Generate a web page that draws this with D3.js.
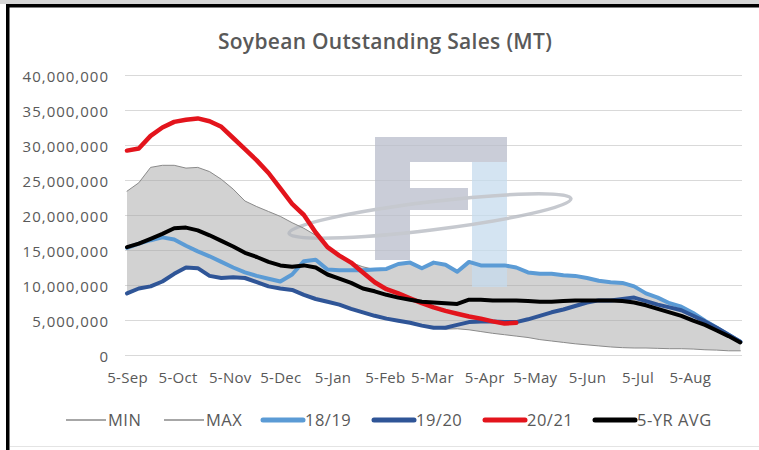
<!DOCTYPE html>
<html>
<head>
<meta charset="utf-8">
<title>Soybean Outstanding Sales (MT)</title>
<script src="https://cdn.jsdelivr.net/npm/d3@7"></script>
<style>
  html, body { margin: 0; padding: 0; background: #fff; }
  #chart { width: 759px; height: 450px; }
  text { font-family: "Open Sans", sans-serif; }
</style>
</head>
<body>
<div id="chart"></div>
<script>
// weekly outstanding sales, million MT, weeks starting 5-Sep
var startDate = new Date(2020, 8, 5);
var endDate = new Date(2021, 8, 5);
var weeks = d3.range(53).map(function(i) { return d3.timeDay.offset(startDate, 7 * i); });
var monthTicks = d3.range(12).map(function(m) { return new Date(2020, 8 + m, 5); });
var yTicks = [0, 5, 10, 15, 20, 25, 30, 35, 40];

var minVals = [8.6, 9.5, 9.8, 10.5, 11.6, 12.5, 12.4, 11.3, 11.0, 11.1, 11.0, 10.4, 9.8, 9.5,
  9.3, 8.6, 8.0, 7.6, 7.2, 6.6, 6.1, 5.6, 5.2, 4.9, 4.6, 4.2, 3.9, 3.7, 3.75, 3.6, 3.35, 3.1,
  2.9, 2.7, 2.5, 2.2, 2.0, 1.8, 1.6, 1.45, 1.3, 1.15, 1.05, 1.0, 1.0, 0.95, 0.9, 0.9, 0.85,
  0.75, 0.7, 0.6, 0.6];
var maxVals = [23.4, 24.6, 26.8, 27.1, 27.1, 26.7, 26.8, 26.2, 25.1, 23.7, 22.0, 21.2, 20.5,
  19.8, 18.9, 18.1, 17.1, 15.6, 14.2, 13.2, 12.6, 12.2, 12.3, 13.0, 13.2, 12.4, 13.2, 12.9,
  11.9, 13.3, 12.8, 12.8, 12.8, 12.5, 11.8, 11.6, 11.6, 11.4, 11.3, 11.0, 10.6, 10.4, 10.3,
  9.8, 8.8, 8.2, 7.4, 6.9, 6.0, 4.9, 3.9, 2.9, 1.9];
var s1819 = [15.3, 15.9, 16.4, 16.8, 16.5, 15.6, 14.8, 14.1, 13.3, 12.5, 11.8, 11.3, 10.9,
  10.5, 11.5, 13.4, 13.6, 12.2, 12.1, 12.1, 12.1, 12.2, 12.3, 13.0, 13.2, 12.4, 13.2, 12.9,
  11.9, 13.3, 12.8, 12.8, 12.8, 12.5, 11.8, 11.6, 11.6, 11.4, 11.3, 11.0, 10.6, 10.4, 10.3,
  9.8, 8.8, 8.2, 7.4, 6.9, 6.0, 4.9, 3.9, 2.9, 1.9];
var s1920 = [8.8, 9.5, 9.8, 10.5, 11.6, 12.5, 12.4, 11.3, 11.0, 11.1, 11.0, 10.4, 9.8, 9.5,
  9.3, 8.6, 8.0, 7.6, 7.2, 6.6, 6.1, 5.6, 5.2, 4.9, 4.6, 4.2, 3.9, 3.9, 4.3, 4.7, 4.8, 4.8,
  4.7, 4.7, 5.1, 5.6, 6.1, 6.5, 7.0, 7.5, 7.8, 7.8, 8.0, 8.2, 7.7, 7.2, 6.8, 6.4, 5.6, 4.8,
  3.9, 2.9, 1.9];
var s2021 = [29.2, 29.5, 31.3, 32.5, 33.3, 33.6, 33.8, 33.4, 32.6, 31.0, 29.4, 27.8, 26.0,
  23.8, 21.6, 20.0, 17.5, 15.4, 14.2, 13.2, 11.8, 10.4, 9.4, 8.8, 8.1, 7.4, 6.8, 6.3, 5.9,
  5.5, 5.2, 4.8, 4.5, 4.6];
var avg5 = [15.4, 15.9, 16.6, 17.3, 18.1, 18.2, 17.8, 17.1, 16.3, 15.5, 14.6, 14.0, 13.3,
  12.8, 12.6, 12.8, 12.5, 11.5, 10.9, 10.3, 9.5, 9.1, 8.6, 8.2, 7.9, 7.6, 7.5, 7.4, 7.3, 7.9,
  7.9, 7.8, 7.8, 7.8, 7.7, 7.6, 7.6, 7.7, 7.8, 7.8, 7.8, 7.8, 7.7, 7.5, 7.1, 6.6, 6.1, 5.6,
  4.9, 4.3, 3.5, 2.7, 1.8];

var legendNames = ["MIN", "MAX", "18/19", "19/20", "20/21", "5-YR AVG"];

var width = 759, height = 450;
var svg = d3.select("#chart").append("svg")
    .attr("width", width)
    .attr("height", height);

svg.append("rect").attr("width", width).attr("height", height).attr("fill", "#fff");

var x = d3.scaleTime().domain([startDate, endDate]).range([127, 742]);
var y = d3.scaleLinear().domain([0, 40]).range([355, 75]);

// frame
svg.append("rect").attr("x", 0).attr("y", 0).attr("width", width).attr("height", 4).attr("fill", "#d6d6d6");
svg.append("rect").attr("x", 6).attr("y", 4).attr("width", width - 6).attr("height", 3.5).attr("fill", "#000");
svg.append("rect").attr("x", 6).attr("y", 4).attr("width", 3.5).attr("height", height - 4).attr("fill", "#000");
svg.append("line").attr("x1", 10).attr("x2", width).attr("y1", 446.5).attr("y2", 446.5)
    .attr("stroke", "#e4e4e4");

// title
svg.append("text")
    .attr("x", 385).attr("y", 49)
    .attr("text-anchor", "middle")
    .attr("fill", "#595959")
    .style("font-size", "21px")
    .style("font-weight", 600)
    .style("letter-spacing", "0.3px")
    .text("Soybean Outstanding Sales (MT)");

// gridlines
svg.append("g").selectAll("line")
    .data(yTicks)
    .enter().append("line")
    .attr("x1", 125).attr("x2", 742)
    .attr("y1", function(d) { return y(d) + 0.5; })
    .attr("y2", function(d) { return y(d) + 0.5; })
    .attr("stroke", "#d9d9d9");

// min-max band
var band = d3.area()
    .x(function(d, i) { return x(weeks[i]); })
    .y0(function(d, i) { return y(minVals[i]); })
    .y1(function(d, i) { return y(maxVals[i]); });
svg.append("path")
    .datum(weeks)
    .attr("d", band)
    .attr("fill", "#a6a6a6")
    .attr("fill-opacity", 0.5);

// watermark logo
var logo = svg.append("g").attr("opacity", 0.75);
logo.append("rect").attr("x", 375).attr("y", 137).attr("width", 132).attr("height", 25).attr("fill", "#b9bdcb");
logo.append("rect").attr("x", 375).attr("y", 162).attr("width", 35).attr("height", 98).attr("fill", "#b9bdcb");
logo.append("rect").attr("x", 410).attr("y", 188).attr("width", 58).attr("height", 22).attr("fill", "#b9bdcb");
logo.append("rect").attr("x", 472).attr("y", 162).attr("width", 35).attr("height", 125).attr("fill", "#c6dcee");
logo.append("ellipse")
    .attr("cx", 430).attr("cy", 216).attr("rx", 142).attr("ry", 14)
    .attr("transform", "rotate(-7 430 216)")
    .attr("fill", "none")
    .attr("stroke", "#b3b7bf")
    .attr("stroke-width", 3.5);

var line = function(vals) {
  return d3.line()
    .x(function(d, i) { return x(weeks[i]); })
    .y(function(d) { return y(d); })(vals);
};

var series = [
  { name: "MIN", vals: minVals, color: "#8a8a8a", w: 1 },
  { name: "MAX", vals: maxVals, color: "#8a8a8a", w: 1 },
  { name: "18/19", vals: s1819, color: "#5b9bd5", w: 4 },
  { name: "19/20", vals: s1920, color: "#2f5597", w: 4 },
  { name: "20/21", vals: s2021, color: "#e3141c", w: 4.5 },
  { name: "5-YR AVG", vals: avg5, color: "#000000", w: 4 }
];

svg.append("g").selectAll("path")
    .data(series)
    .enter().append("path")
    .attr("d", function(d) { return line(d.vals); })
    .attr("fill", "none")
    .attr("stroke", function(d) { return d.color; })
    .attr("stroke-width", function(d) { return d.w; })
    .attr("stroke-linejoin", "round")
    .attr("stroke-linecap", "round");

// axes
var xAxis = svg.append("g")
    .attr("transform", "translate(0,355)")
    .call(d3.axisBottom(x).tickValues(monthTicks).tickFormat(d3.timeFormat("%-d-%b")).tickSize(0).tickPadding(17));
xAxis.select(".domain").remove();
xAxis.selectAll("text")
    .attr("fill", "#595959")
    .style("font-size", "15px")
    .style("letter-spacing", "0.3px")
    .style("font-family", "'Open Sans', sans-serif");

var yAxis = svg.append("g")
    .attr("transform", "translate(125,0)")
    .call(d3.axisLeft(y).tickValues(yTicks).tickFormat(function(d) { return d3.format(",")(d * 1e6); }).tickSize(0).tickPadding(16));
yAxis.select(".domain").remove();
yAxis.selectAll("text")
    .attr("fill", "#595959")
    .attr("dy", "0.45em")
    .style("font-size", "15px")
    .style("letter-spacing", "1px")
    .style("font-family", "'Open Sans', sans-serif");

// legend
var legendX = [66, 164, 263, 374, 485, 595];
var legend = svg.append("g").selectAll("g")
    .data(series)
    .enter().append("g")
    .attr("transform", function(d, i) { return "translate(" + legendX[i] + ",420)"; });
legend.append("line")
    .attr("x1", 0).attr("x2", 40)
    .attr("stroke", function(d) { return d.color; })
    .attr("stroke-width", function(d) { return d.w > 2 ? 5 : 1.5; })
    .attr("stroke-linecap", function(d) { return d.w > 2 ? "round" : "butt"; });
legend.append("text")
    .attr("x", 42).attr("y", 0).attr("dy", "0.36em")
    .attr("fill", "#595959")
    .style("font-size", "16.5px")
    .style("letter-spacing", "0.5px")
    .text(function(d, i) { return legendNames[i]; });
</script>
</body>
</html>
